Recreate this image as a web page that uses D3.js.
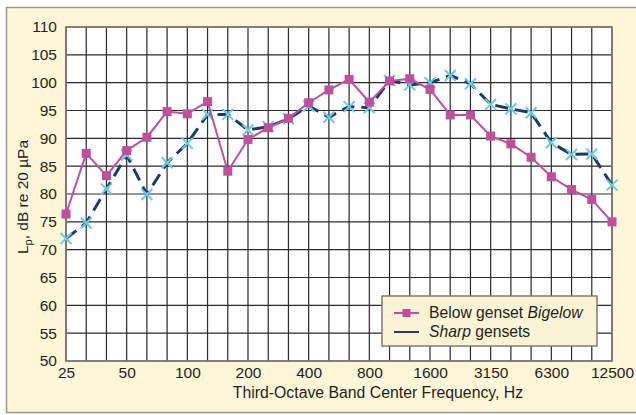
<!DOCTYPE html>
<html>
<head>
<meta charset="utf-8">
<script src="https://cdn.jsdelivr.net/npm/d3@7"></script>
<style>
  body { margin: 0; background: #fff; }
  svg text { font-family: "Liberation Sans", Arial, sans-serif; fill: #231f20; }
</style>
</head>
<body>
<div id="chart"></div>
<script>
// third-octave band centres, Hz
const bands = ["25", "31.5", "40", "50", "63", "80", "100", "125", "160", "200",
  "250", "315", "400", "500", "630", "800", "1000", "1250", "1600", "2000",
  "2500", "3150", "4000", "5000", "6300", "8000", "10000", "12500"];
const tickBands = ["25", "50", "100", "200", "400", "800", "1600", "3150", "6300", "12500"];
const yTicks = d3.range(50, 111, 5);

// Below genset Bigelow
const bigelow = [76.4, 87.3, 83.3, 87.8, 90.2, 94.8, 94.4, 96.6, 84.1, 89.8,
  91.9, 93.6, 96.4, 98.7, 100.6, 96.5, 100.3, 100.7, 98.8, 94.2,
  94.2, 90.4, 89.0, 86.6, 83.1, 80.8, 79.0, 75.0];
// Sharp gensets
const sharp = [72.0, 74.8, 80.9, 87.0, 79.9, 85.6, 89.1, 94.3, 94.3, 91.5,
  92.1, 93.5, 95.8, 93.8, 95.7, 95.5, 100.4, 99.6, 100.0, 101.3,
  99.8, 96.1, 95.3, 94.6, 89.2, 87.1, 87.2, 81.6];

const W = 636, H = 415;
const pLeft = 66, pRight = 612, pTop = 27, pBottom = 361;
const pink = "#c04f9e", navy = "#1d3a6b", cyan = "#6ccbe0";

const svg = d3.select("#chart").append("svg")
    .attr("width", W)
    .attr("height", H);

// cream panel
svg.append("rect")
    .attr("x", 6.5).attr("y", 7.5)
    .attr("width", W).attr("height", 405)
    .attr("fill", "#fff7d7")
    .attr("stroke", "#9a9893")
    .attr("stroke-width", 1.5);

const x = d3.scalePoint().domain(bands).range([pLeft, pRight]);
const y = d3.scaleLinear().domain([50, 110]).range([pBottom, pTop]);

svg.append("rect")
    .attr("x", pLeft).attr("y", pTop)
    .attr("width", pRight - pLeft).attr("height", pBottom - pTop)
    .attr("fill", "#fff");

// grid
svg.append("g")
  .selectAll("line")
  .data(bands)
  .join("line")
    .attr("x1", d => x(d)).attr("x2", d => x(d))
    .attr("y1", pTop).attr("y2", pBottom)
    .attr("stroke", "#2a2a2a").attr("stroke-width", 1.2);

svg.append("g")
  .selectAll("line")
  .data(yTicks)
  .join("line")
    .attr("x1", pLeft).attr("x2", pRight)
    .attr("y1", d => y(d)).attr("y2", d => y(d))
    .attr("stroke", "#2a2a2a").attr("stroke-width", 1.2);

svg.append("rect")
    .attr("x", pLeft).attr("y", pTop)
    .attr("width", pRight - pLeft).attr("height", pBottom - pTop)
    .attr("fill", "none")
    .attr("stroke", "#7d7b76").attr("stroke-width", 1.6);

// axes (labels only)
const yAxis = svg.append("g")
    .attr("transform", `translate(${pLeft},0)`)
    .call(d3.axisLeft(y).tickValues(yTicks).tickSize(0).tickPadding(9));
yAxis.select(".domain").remove();
yAxis.selectAll("text").style("font-size", "15.5px")
    .style("font-family", "'Liberation Sans', Arial, sans-serif").attr("fill", "#231f20");

const xAxis = svg.append("g")
    .attr("transform", `translate(0,${pBottom})`)
    .call(d3.axisBottom(x).tickValues(tickBands).tickSize(0).tickPadding(6));
xAxis.select(".domain").remove();
xAxis.selectAll("text").style("font-size", "15.5px")
    .style("font-family", "'Liberation Sans', Arial, sans-serif").attr("fill", "#231f20");

// axis titles
svg.append("text")
    .attr("x", 378).attr("y", 398)
    .attr("text-anchor", "middle")
    .style("font-size", "15.8px")
    .text("Third-Octave Band Center Frequency, Hz");

const yt = svg.append("text")
    .attr("transform", "translate(28,197) rotate(-90)")
    .attr("text-anchor", "middle")
    .style("font-size", "15.5px");
yt.append("tspan").text("L");
yt.append("tspan").attr("dy", 4).style("font-size", "11px").text("p");
yt.append("tspan").attr("dy", -4).text(", dB re 20 \u00b5Pa");

// series
const line = d3.line()
    .x((d, i) => x(bands[i]))
    .y(d => y(d));

svg.append("path")
    .datum(sharp)
    .attr("d", line)
    .attr("fill", "none")
    .attr("stroke", navy).attr("stroke-width", 3)
    .attr("stroke-dasharray", "13,7");

svg.append("g")
  .selectAll("path")
  .data(sharp)
  .join("path")
    .attr("transform", (d, i) => `translate(${x(bands[i])},${y(d)})`)
    .attr("d", "M-5.5,-5.5L5.5,5.5M-5.5,5.5L5.5,-5.5")
    .attr("stroke", cyan).attr("stroke-width", 2);

svg.append("path")
    .datum(bigelow)
    .attr("d", line)
    .attr("fill", "none")
    .attr("stroke", pink).attr("stroke-width", 2);

svg.append("g")
  .selectAll("rect")
  .data(bigelow)
  .join("rect")
    .attr("x", (d, i) => x(bands[i]) - 4.5)
    .attr("y", d => y(d) - 4.5)
    .attr("width", 9).attr("height", 9)
    .attr("fill", pink);

// legend
const lg = svg.append("g").attr("transform", "translate(382,296)");
lg.append("rect")
    .attr("width", 215).attr("height", 50)
    .attr("fill", "#fbf4d4")
    .attr("stroke", "#7d7b76").attr("stroke-width", 1.5);
lg.append("line")
    .attr("x1", 12).attr("x2", 37).attr("y1", 17).attr("y2", 17)
    .attr("stroke", pink).attr("stroke-width", 2);
lg.append("rect")
    .attr("x", 20.5).attr("y", 13).attr("width", 8).attr("height", 8)
    .attr("fill", pink);
lg.append("line")
    .attr("x1", 12).attr("x2", 37).attr("y1", 36).attr("y2", 36)
    .attr("stroke", "#2c3580").attr("stroke-width", 2);

const t1 = lg.append("text").attr("x", 47).attr("y", 22).style("font-size", "15.7px");
t1.append("tspan").text("Below genset ");
t1.append("tspan").style("font-style", "italic").text("Bigelow");
const t2 = lg.append("text").attr("x", 47).attr("y", 41).style("font-size", "15.7px");
t2.append("tspan").style("font-style", "italic").text("Sharp");
t2.append("tspan").text(" gensets");
</script>
</body>
</html>
